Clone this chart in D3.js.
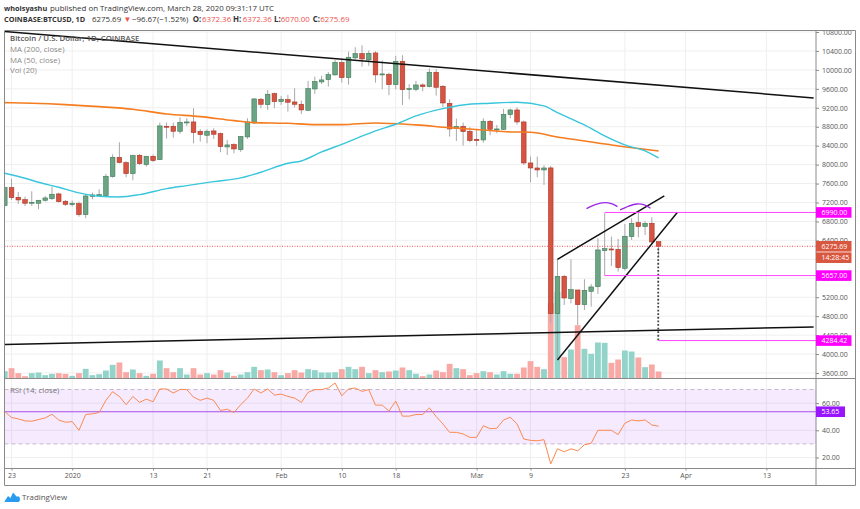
<!DOCTYPE html>
<html>
<head>
<meta charset="utf-8">
<style>
    html, body { margin: 0; padding: 0; background: #fff; }
    text { font-family: "Open Sans", "Noto Sans", sans-serif; }
    .price-axis path, .rsi-axis path, .time-axis path { stroke: #8a8a8a; }
    .price-axis line, .rsi-axis line, .time-axis line { stroke: #8a8a8a; }
</style>
<script src="https://cdn.jsdelivr.net/npm/d3@7"></script>
</head>
<body>
<div id="chart_parent"></div>
<script>
// one entry per day, day 0 is 22 Dec 2019
const opens = [
    7134, 7514, 7310, 7261, 7191, 7184, 7247, 7282, 7381, 7226,
    7155, 7177, 6944, 7331, 7338, 7345, 7747, 8155, 8042, 7810,
    8197, 8000, 8176, 8106, 8810, 8810, 8704, 8880, 8901, 8704,
    8620, 8711, 8655, 8373, 8423, 8317, 8585, 8880, 9380, 9267,
    9500, 9331, 9373, 9323, 9274, 9147, 9598, 9746, 9795, 9894,
    10154, 9837, 10253, 10344, 10210, 10358, 9901, 9908, 9689, 10182,
    9584, 9591, 9682, 9647, 9950, 9654, 9295, 8760, 8809, 8704,
    8535, 8521, 8915, 8732, 8746, 9056, 9154, 8901, 8035, 7929,
    7887, 7930, 4854, 5642, 5170, 5353, 5044, 5325, 5424, 6184,
    6219, 6212, 5811, 6480, 6775, 6691, 6761, 6372.36,
];
const highs = [
    7536, 7698, 7423, 7324, 7437, 7254, 7338, 7536, 7409, 7254,
    7240, 7219, 7374, 7409, 7479, 7803, 8218, 8472, 8071, 8211,
    8226, 8183, 8211, 8887, 8887, 8887, 9000, 8979, 9190, 8746,
    8746, 8768, 8676, 8521, 8451, 8606, 8979, 9401, 9408, 9577,
    9521, 9450, 9472, 9612, 9352, 9767, 9858, 9872, 9957, 10210,
    10210, 10386, 10478, 10520, 10407, 10393, 10196, 9943, 10295, 10309,
    9696, 9767, 9718, 10027, 10013, 9682, 9380, 8971, 8887, 8788,
    8732, 8978, 8943, 8838, 9176, 9183, 9211, 8929, 8169, 8169,
    7986, 7972, 6001, 5670, 6001, 5353, 5579, 5480, 6445, 6973,
    6480, 6431, 6747, 6867, 7008, 6811, 6888, 6372.36,
];
const lows = [
    7113, 7254, 7170, 7127, 7127, 7057, 7219, 7254, 7198, 7127,
    7113, 6902, 6867, 7268, 7324, 7324, 7726, 8028, 7733, 7669,
    7993, 7958, 8057, 8099, 8549, 8570, 8648, 8817, 8451, 8486,
    8451, 8542, 8261, 8204, 8240, 8268, 8542, 8859, 9190, 9155,
    9190, 9260, 9120, 9211, 9070, 9133, 9492, 9704, 9647, 9880,
    9732, 9689, 10224, 10070, 10084, 9732, 9591, 9464, 9591, 9260,
    9380, 9549, 9549, 9633, 9457, 9211, 8591, 8500, 8401, 8472,
    8394, 8464, 8619, 8662, 8732, 8978, 8845, 7993, 7627, 7732,
    7570, 4649, 3875, 5037, 5072, 4614, 4931, 5001, 5269, 5656,
    5860, 5741, 5762, 6409, 6466, 6515, 6339, 6070,
];
const closes = [
    7514, 7303, 7254, 7184, 7205, 7247, 7296, 7374, 7219, 7162,
    7184, 6944, 7338, 7360, 7367, 7754, 8155, 8042, 7810, 8190,
    8021, 8176, 8085, 8817, 8796, 8704, 8894, 8901, 8676, 8634,
    8704, 8641, 8380, 8416, 8331, 8592, 8901, 9387, 9274, 9486,
    9331, 9380, 9317, 9274, 9154, 9605, 9753, 9788, 9901, 10161,
    9837, 10267, 10344, 10231, 10351, 9894, 9915, 9689, 10182, 9584,
    9605, 9682, 9647, 9950, 9633, 9302, 8753, 8809, 8697, 8507,
    8507, 8915, 8746, 8753, 9063, 9154, 8901, 8035, 7929, 7887,
    7929, 4854, 5642, 5184, 5360, 5044, 5346, 5417, 6198, 6226,
    6198, 5825, 6487, 6761, 6691, 6761, 6367, 6275.69,
];
const volumes = [
    22, 31, 16, 7, 16, 18, 10, 14, 16, 14,
    8, 16, 29, 10, 13, 24, 41, 48, 19, 27,
    16, 8, 14, 54, 31, 19, 31, 12, 31, 12,
    16, 12, 25, 18, 8, 12, 19, 35, 25, 27,
    19, 10, 16, 25, 18, 28, 25, 18, 18, 19,
    28, 35, 28, 35, 16, 25, 19, 21, 24, 33,
    25, 14, 7, 12, 24, 19, 44, 31, 28, 10,
    16, 22, 19, 12, 22, 14, 14, 33, 52, 35,
    28, 226, 259, 64, 87, 160, 89, 74, 108, 107,
    47, 57, 84, 81, 63, 34, 42, 21,
];
const rsiValues = [
    53.8, 49.4, 48.4, 46.9, 46.7, 47.9, 49.1, 51.8, 47.6, 45.9,
    46.4, 40.0, 51.6, 52.1, 53.1, 62.0, 68.4, 64.9, 58.8, 64.9,
    60.5, 62.9, 61.0, 70.4, 70.4, 67.4, 70.1, 69.9, 64.4, 62.0,
    63.7, 62.0, 54.6, 55.5, 53.1, 58.8, 63.7, 70.4, 67.4, 70.4,
    65.9, 66.6, 64.9, 63.7, 60.5, 67.9, 69.9, 69.9, 71.1, 74.8,
    65.4, 70.4, 71.1, 68.6, 69.9, 58.5, 58.5, 54.1, 61.5, 50.4,
    50.4, 51.6, 51.6, 56.5, 50.1, 44.7, 38.5, 38.5, 37.3, 34.8,
    34.8, 43.4, 41.2, 41.5, 47.6, 49.6, 44.7, 33.6, 32.6, 32.3,
    33.1, 15.3, 26.4, 24.2, 26.4, 24.9, 29.4, 30.4, 40.0, 40.0,
    40.0, 36.8, 45.2, 47.6, 46.9, 47.6, 43.9, 43.0,
];

const ma200Days = [0, 4, 9, 14, 19, 24, 29, 34, 37, 42, 46, 50, 55, 61, 66, 71, 75, 78, 82, 85, 88, 91, 94, 97];
const ma200Values = [9309, 9296, 9267, 9224, 9169, 9070, 9013, 8928, 8886, 8873, 8844, 8844, 8880, 8838, 8781, 8732, 8690, 8684, 8584, 8521, 8458, 8394, 8341, 8289];
const ma50Days = [0, 3, 5, 8, 11, 14, 17, 20, 24, 27, 31, 35, 38, 42, 44, 47, 50, 55, 58, 61, 65, 68, 72, 76, 80, 82, 86, 89, 92, 95, 97];
const ma50Values = [7817, 7712, 7627, 7521, 7402, 7331, 7317, 7367, 7493, 7557, 7641, 7719, 7838, 8028, 8077, 8267, 8429, 8711, 8852, 9028, 9183, 9260, 9295, 9316, 9239, 9098, 8837, 8605, 8415, 8289, 8141];

// hand drawn trend lines, as [day, price] ends
const topTrendDays = [0, 120];
const topTrendPrices = [10808, 9408];
const supportDays = [0, 120];
const supportPrices = [4202, 4572];
const wedgeUpperDays = [82, 97.85];
const wedgeUpperPrices = [6001, 7338];
const wedgeLowerDays = [82, 99.8];
const wedgeLowerPrices = [3875, 6994];
const arcOneDays = [86.3, 87.6, 89, 90, 90.9];
const arcOnePrices = [7070, 7155, 7197, 7175, 7112];
const arcTwoDays = [91.3, 92.6, 93.8, 94.9, 95.8];
const arcTwoPrices = [7042, 7125, 7169, 7150, 7078];
const targetDropDays = [96.95, 96.95];
const targetDropPrices = [6230, 4284.42];

const priceTicks = [3600, 4000, 4400, 4800, 5200, 5600, 6000, 6400, 6800, 7200, 7600, 8000, 8400, 8800, 9200, 9600, 10000, 10400, 10800];
const rsiTicks = [20, 40, 60];
const timeTickDays = [1, 10, 22, 30, 41, 50, 58, 70, 78, 92, 101, 113];
const timeTickLabels = ['23', '2020', '13', '21', 'Feb', '10', '18', 'Mar', '9', '23', 'Apr', '13'];
const legendLines = ['Bitcoin / U.S. Dollar, 1D, COINBASE', 'MA (200, close)', 'MA (50, close)', 'Vol (20)'];

const chartConfig = {
    outerWidth: 860,
    outerHeight: 509,
    left: 4.5,
    right: 816,
    frameRight: 855.5,
    top: 30.5,
    priceBottom: 378.5,
    rsiBottom: 468.5,
    bottom: 485.5,
};

const svg = d3.select('#chart_parent').append('svg')
    .attr('width', chartConfig.outerWidth)
    .attr('height', chartConfig.outerHeight)
    .style('display', 'block');

const xScale = d3.scaleLinear().domain([0, 120]).range([4.8, 813.6]);
const yScale = d3.scaleLinear().domain([3600, 10800]).range([373, 32]);
const volumeScale = d3.scaleLinear().domain([0, 300]).range([chartConfig.priceBottom, chartConfig.priceBottom - 100]);
const rsiScale = d3.scaleLinear().domain([20, 70]).range([457.5, 389.5]);

// drop the 5 px that hangs past the axis on the left edge
svg.append('defs').append('clipPath').attr('id', 'pane-clip')
    .append('rect')
    .attr('x', chartConfig.left)
    .attr('y', chartConfig.top)
    .attr('width', chartConfig.right - chartConfig.left)
    .attr('height', chartConfig.priceBottom - chartConfig.top);

function drawGrid() {
    const grid = svg.append('g').attr('stroke', '#efefef').attr('stroke-width', 1);
    grid.selectAll('.v').data(timeTickDays).enter().append('line')
        .attr('x1', d => xScale(d)).attr('x2', d => xScale(d))
        .attr('y1', chartConfig.top).attr('y2', chartConfig.rsiBottom);
    grid.selectAll('.h').data(priceTicks).enter().append('line')
        .attr('x1', chartConfig.left).attr('x2', chartConfig.right)
        .attr('y1', d => yScale(d)).attr('y2', d => yScale(d));
    grid.selectAll('.r').data(rsiTicks).enter().append('line')
        .attr('x1', chartConfig.left).attr('x2', chartConfig.right)
        .attr('y1', d => rsiScale(d)).attr('y2', d => rsiScale(d));
}

function drawVolumes() {
    const bw = 5.8;
    svg.append('g').selectAll('rect').data(volumes).enter().append('rect')
        .attr('x', (d, i) => Math.max(chartConfig.left, xScale(i) - bw / 2))
        .attr('width', (d, i) => i === 0 ? bw / 2 + xScale(0) - chartConfig.left : bw)
        .attr('y', d => volumeScale(d))
        .attr('height', d => chartConfig.priceBottom - volumeScale(d))
        .attr('fill', (d, i) => closes[i] >= opens[i] ? '#92d3ca' : '#f8a9a6');
}

function drawCandles() {
    const bw = 4.6;
    const g = svg.append('g').attr('clip-path', 'url(#pane-clip)');
    const candles = g.selectAll('g').data(opens).enter().append('g');
    candles.append('line')
        .attr('x1', (d, i) => xScale(i)).attr('x2', (d, i) => xScale(i))
        .attr('y1', (d, i) => yScale(highs[i])).attr('y2', (d, i) => yScale(lows[i]))
        .attr('stroke', '#a8a8a8').attr('stroke-width', 1);
    candles.append('rect')
        .attr('x', (d, i) => xScale(i) - bw / 2)
        .attr('width', bw)
        .attr('y', (d, i) => yScale(Math.max(opens[i], closes[i])))
        .attr('height', (d, i) => Math.max(1, Math.abs(yScale(opens[i]) - yScale(closes[i]))))
        .attr('fill', (d, i) => closes[i] >= opens[i] ? '#6ba583' : '#d75442')
        .attr('stroke', (d, i) => closes[i] >= opens[i] ? '#3e7a58' : '#a93526')
        .attr('stroke-width', 0.6);
}

function linePath(days, values, curve) {
    const line = d3.line().curve(curve || d3.curveLinear)
        .x((d, i) => xScale(days[i]))
        .y(d => yScale(d));
    return line(values);
}

function drawStudies() {
    const g = svg.append('g').attr('clip-path', 'url(#pane-clip)').attr('fill', 'none');
    g.append('path').attr('d', linePath(ma200Days, ma200Values, d3.curveMonotoneX))
        .attr('stroke', '#f57c1f').attr('stroke-width', 1.6);
    g.append('path').attr('d', linePath(ma50Days, ma50Values, d3.curveMonotoneX))
        .attr('stroke', '#38c6dc').attr('stroke-width', 1.4);
}

function drawAnnotations() {
    const g = svg.append('g').attr('clip-path', 'url(#pane-clip)').attr('fill', 'none');

    // last price line
    g.append('line')
        .attr('x1', chartConfig.left).attr('x2', chartConfig.right)
        .attr('y1', yScale(6275.69)).attr('y2', yScale(6275.69))
        .attr('stroke', '#ef5350').attr('stroke-width', 1).attr('stroke-dasharray', '1 1.5');

    [
        [topTrendDays, topTrendPrices],
        [supportDays, supportPrices],
        [wedgeUpperDays, wedgeUpperPrices],
        [wedgeLowerDays, wedgeLowerPrices],
    ].forEach(([days, prices]) => {
        g.append('path').attr('d', linePath(days, prices))
            .attr('stroke', '#111').attr('stroke-width', 1.5);
    });

    [[arcOneDays, arcOnePrices], [arcTwoDays, arcTwoPrices]].forEach(([days, prices]) => {
        g.append('path').attr('d', linePath(days, prices, d3.curveCatmullRom))
            .attr('stroke', '#9c27e8').attr('stroke-width', 1.4);
    });

    g.append('path').attr('d', linePath(targetDropDays, targetDropPrices))
        .attr('stroke', '#444').attr('stroke-width', 1.8).attr('stroke-dasharray', '1.8 1.8');

    // magenta levels, 6990 and 5657 start at the wick of day 89
    const levels = [[89, 6990], [89, 5657], [96.95, 4284.42]];
    g.selectAll('.level').data(levels).enter().append('line')
        .attr('x1', d => xScale(d[0])).attr('x2', chartConfig.right)
        .attr('y1', d => yScale(d[1])).attr('y2', d => yScale(d[1]))
        .attr('stroke', '#ff40ff').attr('stroke-width', 1);
}

function drawRsi() {
    const g = svg.append('g');
    g.append('rect')
        .attr('x', chartConfig.left).attr('width', chartConfig.right - chartConfig.left)
        .attr('y', rsiScale(70)).attr('height', rsiScale(30) - rsiScale(70))
        .attr('fill', '#9915ff').attr('fill-opacity', 0.09);
    g.selectAll('.band').data([70, 30]).enter().append('line')
        .attr('x1', chartConfig.left).attr('x2', chartConfig.right)
        .attr('y1', d => rsiScale(d)).attr('y2', d => rsiScale(d))
        .attr('stroke', '#c7b7d2').attr('stroke-width', 1).attr('stroke-dasharray', '4 3');
    g.append('line')
        .attr('x1', chartConfig.left).attr('x2', chartConfig.right)
        .attr('y1', rsiScale(53.65)).attr('y2', rsiScale(53.65))
        .attr('stroke', '#a94ee6').attr('stroke-width', 1.1);
    const rsiLine = d3.line().x((d, i) => xScale(i)).y(d => rsiScale(d));
    g.append('path').datum(rsiValues)
        .attr('d', rsiLine)
        .attr('fill', 'none').attr('stroke', '#fb8a52').attr('stroke-width', 1);
}

function drawAxes() {
    // the 6000 label sits fully under the countdown tag, so it stays blank
    const priceAxis = d3.axisRight(yScale)
        .tickValues(priceTicks).tickSize(3).tickPadding(3)
        .tickFormat(d => d === 6000 ? '' : d3.format('.2f')(d));
    svg.append('g').attr('class', 'price-axis')
        .attr('transform', `translate(${chartConfig.right},0)`)
        .call(priceAxis)
        .call(g => g.select('.domain').remove())
        .selectAll('text').attr('font-size', 7).attr('fill', '#555');

    const rsiAxis = d3.axisRight(rsiScale)
        .tickValues(rsiTicks).tickSize(3).tickPadding(3).tickFormat(d3.format('.2f'));
    svg.append('g').attr('class', 'rsi-axis')
        .attr('transform', `translate(${chartConfig.right},0)`)
        .call(rsiAxis)
        .call(g => g.select('.domain').remove())
        .selectAll('text').attr('font-size', 7).attr('fill', '#555');

    const timeAxis = d3.axisBottom(xScale)
        .tickValues(timeTickDays).tickSize(2).tickPadding(3)
        .tickFormat((d, i) => timeTickLabels[i]);
    svg.append('g').attr('class', 'time-axis')
        .attr('transform', `translate(0,${chartConfig.rsiBottom})`)
        .call(timeAxis)
        .call(g => g.select('.domain').remove())
        .selectAll('text').attr('font-size', 7).attr('fill', '#555');

    const frame = svg.append('g').attr('stroke', '#8a8a8a').attr('stroke-width', 1);
    const c = chartConfig;
    [
        [c.left, c.top, c.frameRight, c.top],
        [c.left, c.top, c.left, c.bottom],
        [c.left, c.bottom, c.frameRight, c.bottom],
        [c.frameRight, c.top, c.frameRight, c.bottom],
        [c.right, c.top, c.right, c.bottom],
        [c.left, c.priceBottom, c.frameRight, c.priceBottom],
        [c.left, c.rsiBottom, c.frameRight, c.rsiBottom],
    ].forEach(d => {
        frame.append('line').attr('x1', d[0]).attr('y1', d[1]).attr('x2', d[2]).attr('y2', d[3]);
    });
}

function addTag(y, label, fill, width) {
    const h = 10.6;
    const g = svg.append('g');
    g.append('rect')
        .attr('x', chartConfig.right).attr('y', y - h / 2)
        .attr('width', width).attr('height', h)
        .attr('fill', fill);
    g.append('text')
        .attr('x', chartConfig.right + 5.5).attr('y', y + 2.6)
        .attr('font-size', 7).attr('fill', '#fff')
        .text(label);
}

function drawTags() {
    addTag(yScale(6990), '6990.00', '#ff00ff', 35.5);
    addTag(yScale(6275.69), '6275.69', '#d9573f', 35.5);
    addTag(yScale(6275.69) + 11.4, '14:28:45', '#d9573f', 35.5);
    addTag(yScale(5657), '5657.00', '#ff00ff', 35.5);
    addTag(yScale(4284.42), '4284.42', '#ff00ff', 35.5);
    addTag(rsiScale(53.65), '53.65', '#9915ff', 29);
}

function drawHeader() {
    const dark = '#333';
    const red = '#ef5350';
    const line1 = svg.append('text').attr('x', 4).attr('y', 10.5).attr('font-size', 7.9).attr('fill', dark);
    line1.append('tspan').attr('font-weight', 700).attr('font-size', 7.3).text('whoisyashu');
    line1.append('tspan').attr('x', 50).text('published on TradingView.com, March 28, 2020 09:31:17 UTC');

    const parts = [
        [4, 'COINBASE:BTCUSD, 1D', dark, 700, 7.3],
        [92, '6275.69', dark, 400, 7.9],
        [123.5, '▼', red, 400, 7.9],
        [132, '−96.67', dark, 400, 7.9],
        [157, '(−1.52%)', dark, 400, 7.9],
        [192.7, 'O:', dark, 700, 7.9],
        [202, '6372.36', red, 400, 7.9],
        [233, 'H:', dark, 700, 7.9],
        [242.7, '6372.36', red, 400, 7.9],
        [274, 'L:', dark, 700, 7.9],
        [280.7, '6070.00', red, 400, 7.9],
        [312.7, 'C:', dark, 700, 7.9],
        [320.3, '6275.69', red, 400, 7.9],
    ];
    svg.append('g').selectAll('text').data(parts).enter().append('text')
        .attr('x', d => d[0]).attr('y', 21.5).attr('font-size', d => d[4])
        .attr('fill', d => d[2]).attr('font-weight', d => d[3])
        .text(d => d[1]);

    svg.append('g').selectAll('text').data(legendLines).enter().append('text')
        .attr('x', 10).attr('y', (d, i) => 41 + i * 10.8).attr('font-size', 7.8)
        .attr('fill', (d, i) => i === 0 ? '#555' : '#8a8a8a')
        .attr('font-weight', (d, i) => i === 0 ? 600 : 400)
        .text(d => d);

    svg.append('text').attr('x', 10).attr('y', 392.5).attr('font-size', 7.8).attr('fill', '#777')
        .text('RSI (14, close)');
}

function drawFooter() {
    svg.append('path')
        .attr('d', 'M4.5 501.5 L8 496 L10.5 498 L13 492.5 L16.5 496.5 L19 496.5 Q21 499 19 502 L6 502 Q4.5 502 4.5 501.5 Z')
        .attr('fill', '#2a9cf0');
    svg.append('text').attr('x', 22).attr('y', 500.2).attr('font-size', 7.9).attr('fill', '#555').text('TradingView');
}

drawGrid();
drawVolumes();
drawCandles();
drawStudies();
drawAnnotations();
drawRsi();
drawAxes();
drawTags();
drawHeader();
drawFooter();
</script>
</body>
</html>
